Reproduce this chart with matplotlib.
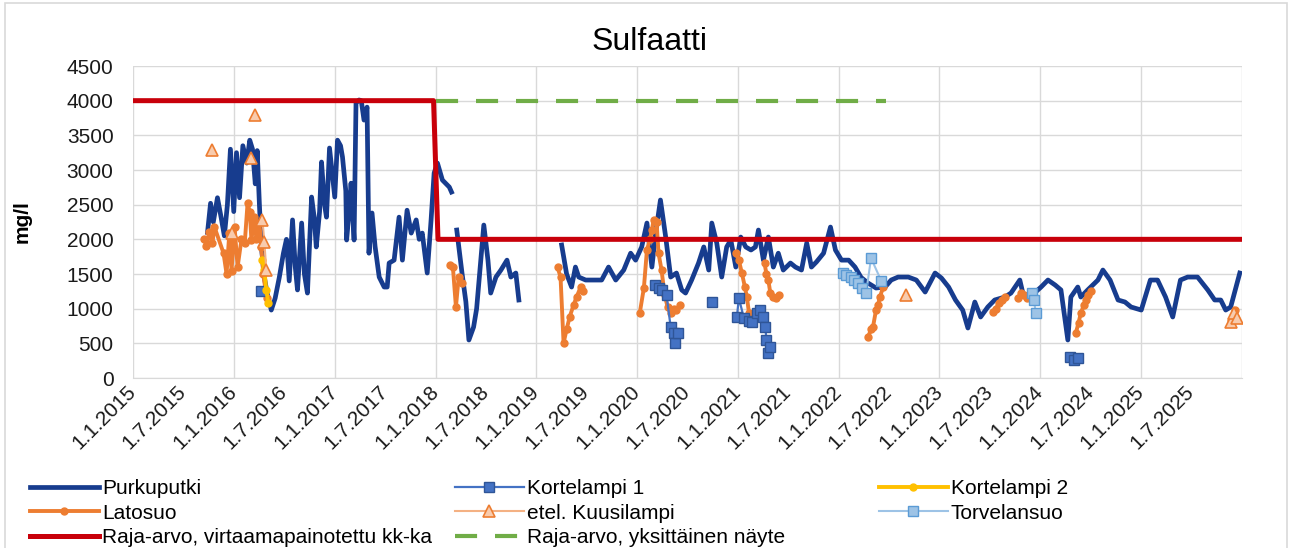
import matplotlib

matplotlib.use("Agg")
import matplotlib.dates as mdates  # noqa: E402
import matplotlib.pyplot as plt  # noqa: E402
import numpy as np  # noqa: E402
import pandas as pd  # noqa: E402
from matplotlib.patches import Rectangle  # noqa: E402

plt.rcParams["font.family"] = ["Liberation Sans", "DejaVu Sans"]

# --- data (mg/l), None = break in the line ---
purku_dates = [
    "2015-09-28", "2015-10-09", "2015-10-19", "2015-11-03", "2015-11-17", "2015-11-28", "2015-12-09",
    "2015-12-20", "2016-01-01", "2016-01-11", "2016-01-22", "2016-02-03", "2016-02-17", "2016-02-28",
    "2016-03-09", "2016-03-19", "2016-03-26", "2016-04-03", "2016-04-10", "2016-04-21", "2016-05-02",
    "2016-05-16", "2016-05-30", "2016-06-14", "2016-06-29", "2016-07-10", "2016-07-20", "2016-08-01",
    "2016-08-11", "2016-08-19", "2016-09-03", "2016-09-13", "2016-09-24", "2016-10-09", "2016-10-19",
    "2016-10-26", "2016-11-07", "2016-11-14", "2016-11-25", "2016-12-02", "2016-12-13", "2016-12-24",
    "2017-01-01", "2017-01-11", "2017-01-22", "2017-01-29", "2017-02-10", "2017-02-13", "2017-02-24",
    "2017-03-01", "2017-03-12", "2017-03-19", "2017-03-30", "2017-04-07", "2017-04-17", "2017-04-28",
    "2017-05-05", "2017-05-16", "2017-05-27", "2017-06-11", "2017-06-29", "2017-07-10", "2017-07-17",
    "2017-08-04", "2017-08-22", "2017-09-03", "2017-09-20", "2017-10-05", "2017-10-23", "2017-11-03",
    "2017-11-14", "2017-12-02", "2017-12-16", "2017-12-27", "2018-01-08", "2018-01-26", "2018-02-20",
    "2018-02-28", "2018-03-10",
    "2018-03-19", "2018-04-07", "2018-04-21", "2018-05-02", "2018-05-19", "2018-05-30", "2018-06-25",
    "2018-07-10", "2018-07-20", "2018-08-08", "2018-08-26", "2018-09-17", "2018-10-01", "2018-10-19",
    "2018-10-30", "2019-01-01",
    "2019-04-03", "2019-04-21", "2019-05-09", "2019-05-23", "2019-06-04", "2019-06-29", "2019-07-28",
    "2019-08-26", "2019-09-20", "2019-10-16", "2019-11-14", "2019-12-09", "2019-12-27", "2020-01-18",
    "2020-02-06", "2020-02-24", "2020-03-09", "2020-03-26", "2020-04-14", "2020-05-02", "2020-05-23",
    "2020-06-11", "2020-06-25", "2020-07-17", "2020-08-11", "2020-08-30", "2020-09-17", "2020-09-28",
    "2020-10-16", "2020-11-03", "2020-11-21", "2020-12-06", "2020-12-24", "2021-01-11", "2021-01-29",
    "2021-02-17", "2021-03-05", "2021-03-16", "2021-04-03", "2021-04-21", "2021-05-09", "2021-05-27",
    "2021-06-14", "2021-07-10", "2021-07-28", "2021-08-19", "2021-09-07", "2021-09-24", "2021-10-12",
    "2021-11-07", "2021-12-02", "2021-12-20", "2022-01-11", "2022-02-06", "2022-03-01", "2022-03-23",
    "2022-04-17", "2022-05-16", "2022-06-18", "2022-07-10", "2022-08-04", "2022-09-10", "2022-10-09",
    "2022-11-10", "2022-12-16", "2023-01-08", "2023-02-03", "2023-02-28", "2023-03-26", "2023-04-14",
    "2023-05-09", "2023-05-30", "2023-06-25", "2023-07-20", "2023-08-26", "2023-09-17", "2023-10-19",
    "2023-10-30", "2023-11-25", "2024-01-04", "2024-01-29", "2024-02-24", "2024-03-16", "2024-04-10",
    "2024-04-21", "2024-05-16", "2024-05-27", "2024-06-21", "2024-07-28", "2024-08-15", "2024-09-10",
    "2024-10-09", "2024-11-03", "2024-11-25", "2025-01-01", "2025-02-03", "2025-03-01", "2025-03-30",
    "2025-04-25", "2025-05-23", "2025-06-18", "2025-07-24", "2025-08-30", "2025-09-24", "2025-10-16",
    "2025-11-03", "2025-11-21", "2025-12-24",
]
purku_vals = [
    2100, 2520, 2250, 2600, 2300, 2050, 2500,
    3300, 2400, 3250, 2600, 3350, 3100, 3430,
    3300, 2800, 3280, 2500, 1900, 1450, 1200,
    980, 1150, 1450, 1800, 2000, 1400, 2280,
    1600, 1270, 2235, 1500, 1225, 2610, 2300,
    1890, 2400, 3115, 2500, 2320, 3317, 2900,
    2610, 3430, 3350, 3187, 2700, 1990, 2500,
    2810, 1990, 3965, 4010, 4000, 3720, 3907,
    1800, 2380, 1900, 1456, 1312, 1312, 1658,
    1700, 2320, 1700, 2420, 2090, 2280, 2000,
    2090, 1514, 2280, 2956, 3100, 2855, 2754,
    2682, None,
    2134, 1514, 1100, 548, 735, 1000, 2206,
    1700, 1225, 1456, 1557, 1700, 1456, 1514,
    1125, None,
    1918, 1500, 1312, 1600, 1456, 1413, 1413,
    1413, 1600, 1413, 1557, 1800, 1700, 1890,
    2235, 1600, 2100, 2567, 2033, 1456, 1514,
    1270, 1225, 1413, 1658, 1890, 1557, 2235,
    1946, 1456, 1890, 1990, 1600, 2033, 1890,
    1846, 1890, 2134, 1700, 2033, 1600, 1800,
    1557, 1658, 1600, 1557, 1946, 1600, 1673,
    1800, 2177, 1846, 1700, 1700, 1600, 1450,
    1370, 1298, 1312, 1413, 1456, 1456, 1413,
    1240, 1514, 1442, 1312, 1125, 980, 721,
    1096, 880, 1024, 1125, 1168, 1225, 1413,
    1225, 1168, 1312, 1413, 1341, 1270, 548,
    1168, 1312, 1168, 1270, 1413, 1557, 1413,
    1125, 1096, 1024, 980, 1413, 1413, 1168,
    880, 1413, 1456, 1456, 1270, 1125, 1125,
    980, 1024, 1514,
]

latosuo_dates = [
    "2015-09-17", "2015-09-24", "2015-10-05", "2015-10-16", "2015-10-23", "2015-11-25", "2015-12-06",
    "2015-12-16", "2015-12-24", "2016-01-04", "2016-01-15", "2016-01-29", "2016-02-10", "2016-02-20",
    "2016-02-28", "2016-03-05", "2016-03-16", "2016-03-23", "2016-04-03", "2016-04-10", "2016-04-17",
    "2016-04-25", "2016-05-02", "2017-06-01",
    "2018-02-24", "2018-03-05", "2018-03-16", "2018-03-26", "2018-04-07", "2018-10-01",
    "2019-03-19", "2019-03-30", "2019-04-10", "2019-04-21", "2019-05-02", "2019-05-16", "2019-05-27",
    "2019-06-11", "2019-06-18", "2019-10-01",
    "2020-01-11", "2020-01-26", "2020-02-06", "2020-02-17", "2020-02-24", "2020-03-01", "2020-03-12",
    "2020-03-19", "2020-03-30", "2020-04-10", "2020-04-21", "2020-05-02", "2020-05-13", "2020-05-23",
    "2020-06-04", "2020-10-01",
    "2020-12-24", "2021-01-04", "2021-01-15", "2021-01-26", "2021-02-02", "2021-02-10", "2021-03-10",
    "2021-04-07", "2021-04-14", "2021-04-21", "2021-04-28", "2021-05-09", "2021-05-19", "2021-05-30",
    "2021-10-01",
    "2022-04-17", "2022-04-28", "2022-05-05", "2022-05-16", "2022-05-23", "2022-05-30", "2022-06-11",
    "2023-01-01",
    "2023-07-13", "2023-07-24", "2023-08-04", "2023-08-15", "2023-08-26", "2023-09-30",
    "2023-10-12", "2023-10-23", "2023-11-03", "2023-11-14", "2024-01-01",
    "2024-05-09", "2024-05-19", "2024-05-27", "2024-06-07", "2024-06-14", "2024-06-21", "2024-07-02",
    "2025-01-01",
    "2025-11-21", "2025-11-28", "2025-12-06",
]
latosuo_vals = [
    2000, 1900, 2100, 1950, 2180, 1800, 1500,
    2090, 1550, 2180, 1600, 2000, 1950, 2520,
    2400, 1990, 2320, 2000, 2235, 1890, 1500,
    1270, 1150, None,
    1630, 1600, 1024, 1456, 1370, None,
    1600, 1456, 505, 700, 880, 1050, 1168,
    1312, 1250, None,
    937, 1300, 1846, 2000, 2134, 2280, 2250,
    1800, 1557, 1200, 1024, 937, 1000, 980,
    1050, None,
    1800, 1700, 1514, 1312, 1168, 937, None,
    1658, 1500, 1413, 1225, 1168, 1150, 1200,
    None,
    591, 700, 735, 980, 1050, 1168, 1312,
    None,
    950, 1000, 1080, 1125, 1168, None,
    1150, 1225, 1200, 1150, None,
    649, 800, 937, 1050, 1125, 1200, 1250,
    None,
    836, 900, 980,
]

korte1_dates = [
    "2016-04-07", "2016-06-01",
    "2020-03-05", "2020-03-19", "2020-03-30", "2020-04-17", "2020-05-02", "2020-05-13", "2020-05-19",
    "2020-05-30", "2020-07-01", "2020-09-28", "2020-11-01",
    "2020-12-28", "2021-01-04", "2021-01-22", "2021-02-10", "2021-02-20", "2021-03-09", "2021-03-23",
    "2021-04-03", "2021-04-10", "2021-04-14", "2021-04-21", "2021-04-28", "2022-01-01",
    "2024-04-17", "2024-05-02", "2024-05-16",
]
korte1_vals = [
    1250, None,
    1340, 1300, 1270, 1197, 735, 649, 505,
    649, None, 1096, None,
    880, 1154, 870, 820, 807, 937, 980,
    880, 735, 548, 360, 447, None,
    303, 260, 290,
]

korte2_dates = ["2016-04-14", "2016-04-21", "2016-04-28", "2016-05-05"]
korte2_vals = [1700, 1557, 1270, 1081]

kuusi_dates = [
    "2015-10-16", "2015-11-20", "2015-12-24", "2016-02-01", "2016-03-05", "2016-03-12", "2016-03-19",
    "2016-04-05", "2016-04-14", "2016-04-21", "2016-04-28", "2016-06-01",
    "2022-09-03", "2023-01-01",
    "2025-11-21", "2025-12-02", "2025-12-13",
]
kuusi_vals = [
    3290, None, 2090, None, 3170, None, 3790,
    None, 2280, 1960, 1557, None,
    1197, None,
    807, 937, 870,
]

torvel_dates = [
    "2022-01-18", "2022-01-29", "2022-02-13", "2022-02-27", "2022-03-12", "2022-03-26", "2022-04-10",
    "2022-04-28", "2022-06-04", "2022-09-01",
    "2023-12-02", "2023-12-09", "2023-12-16",
]
torvel_vals = [
    1514, 1480, 1456, 1420, 1370, 1300, 1225,
    1730, 1400, None,
    1225, 1125, 937,
]

raja_kk_dates = ["2015-01-01", "2017-12-25", "2018-01-10", "2025-12-31"]
raja_kk_vals = [4000, 4000, 2000, 2000]

raja_yks_dates = ["2018-01-01", "2022-06-20"]
raja_yks_vals = [4000, 4000]

tick_dates = pd.date_range("2015-01-01", "2025-07-01", freq="6MS")
tick_labels = [f"{d.day}.{d.month}.{d.year}" for d in tick_dates]
year_dates = pd.date_range("2015-01-01", "2026-01-01", freq="YS")


def xy(dates, vals):
    return pd.to_datetime(dates).to_numpy(), np.array(vals, dtype=float)


fig = plt.figure(figsize=(12.92, 5.48), dpi=100)
ax = fig.add_axes([133 / 1292, 1 - 378 / 548, (1242 - 133) / 1292, (378 - 66) / 548])

h_purku, = ax.plot(*xy(purku_dates, purku_vals), color="#173C8E", lw=3.4,
                   solid_joinstyle="round", zorder=3, label="Purkuputki")
h_lato, = ax.plot(*xy(latosuo_dates, latosuo_vals), color="#ED7D31", lw=2.8, marker="o", ms=5,
                  solid_joinstyle="round", zorder=4, label="Latosuo")
h_k1, = ax.plot(*xy(korte1_dates, korte1_vals), color="#4472C4", lw=1.6, marker="s", ms=6.5,
                mec="#2F5597", zorder=5, label="Kortelampi 1")
h_k2, = ax.plot(*xy(korte2_dates, korte2_vals), color="#FFC000", lw=2.8, marker="o", ms=5,
                zorder=5, label="Kortelampi 2")
h_kuusi, = ax.plot(*xy(kuusi_dates, kuusi_vals), color="#F4B183", lw=1.5, marker="^", ms=8,
                   mfc="#F8CBAD", mec="#ED7D31", mew=1.2, zorder=6, label="etel. Kuusilampi")
h_torv, = ax.plot(*xy(torvel_dates, torvel_vals), color="#9DC3E6", lw=1.5, marker="s", ms=6.5,
                  mfc="#9DC3E6", mec="#5B9BD5", zorder=6, label="Torvelansuo")
h_kk, = ax.plot(*xy(raja_kk_dates, raja_kk_vals), color="#C8000A", lw=3.6, zorder=7,
                label="Raja-arvo, virtaamapainotettu kk-ka")
h_yks, = ax.plot(*xy(raja_yks_dates, raja_yks_vals), color="#70AD47", lw=3.0, dashes=(5.3, 4.3),
                 zorder=7, label="Raja-arvo, yksittäinen näyte")

ax.set_xlim(mdates.date2num(year_dates[0]), mdates.date2num(year_dates[-1]))
ax.set_ylim(0, 4500)
ax.set_yticks(np.arange(0, 4501, 500))
ax.set_xticks(mdates.date2num(tick_dates))
ax.set_xticklabels(tick_labels, rotation=45, ha="right", va="center", rotation_mode="anchor")
ax.set_xticks(mdates.date2num(year_dates), minor=True)
ax.xaxis.remove_overlapping_locs = False
ax.grid(axis="y", which="major", color="#D9D9D9", lw=1.0)
ax.grid(axis="x", which="minor", color="#D9D9D9", lw=1.0)
ax.grid(axis="x", which="major", visible=False)
ax.set_axisbelow(True)
ax.tick_params(which="both", length=0, labelsize=15, colors="#1a1a1a")
ax.tick_params(axis="y", pad=14)
ax.tick_params(axis="x", pad=8)
for side in ("top", "right", "left"):
    ax.spines[side].set_visible(False)
ax.spines["bottom"].set_color("#D9D9D9")
ax.set_ylabel("mg/l", fontsize=15, fontweight="bold", labelpad=25)

fig.text(650 / 1292, 1 - 42 / 548, "Sulfaatti", ha="center", va="center", fontsize=23)

columns = [
    ([h_purku, h_lato, h_kk], 30),
    ([h_k1, h_kuusi, h_yks], 455),
    ([h_k2, h_torv], 879),
]
for handles, x_px in columns:
    fig.legend(handles=handles, loc="upper left", bbox_to_anchor=(x_px / 1292, 1 - 479 / 548),
               frameon=False, fontsize=15, handlelength=3.3, handletextpad=0.15,
               labelspacing=0.27, borderpad=0, borderaxespad=0)

fig.add_artist(Rectangle((0.004, -0.02), 0.992, 1.014, transform=fig.transFigure, fill=False,
                         edgecolor="#D9D9D9", lw=1.2))

fig.savefig("out.png", dpi=100)
